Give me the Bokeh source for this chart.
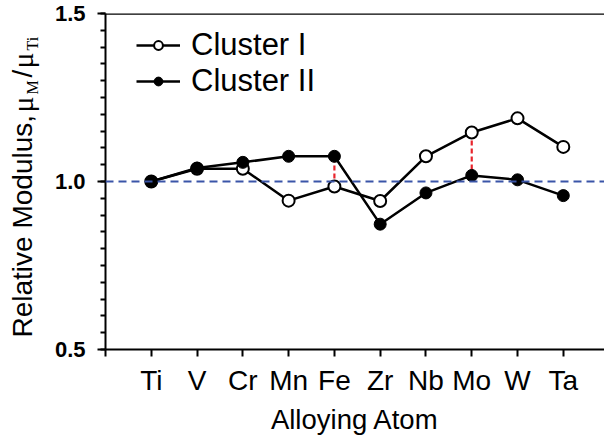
import math
from bokeh.plotting import figure
from bokeh.layouts import row
from bokeh.models import Range1d, FixedTicker, Span, Legend, LegendItem
from bokeh.core.properties import value
from bokeh.embed import file_html
from bokeh.resources import INLINE

# ---- data ----
atoms = ["Ti", "V", "Cr", "Mn", "Fe", "Zr", "Nb", "Mo", "W", "Ta"]
cluster_I = [1.000, 1.038, 1.038, 0.943, 0.985, 0.942, 1.075, 1.146, 1.188, 1.103]
cluster_II = [1.000, 1.040, 1.057, 1.075, 1.075, 0.873, 0.966, 1.018, 1.005, 0.958]
highlight_atoms = ["Fe", "Mo"]
y_tick_values = [0.5, 1.0, 1.5]
y_tick_labels = ["0.5", "1.0", "1.5"]
reference_level = 1.0

xs = list(range(1, len(atoms) + 1))

SANS = "Liberation Sans"
SERIF = "Liberation Serif"

LEFT_W = 48
TOTAL_W = 604
TOTAL_H = 440
FRAME_TOP = 13
FRAME_BOTTOM = 349

# ---- left strip holding the rotated y-axis title (with subscripts) ----
# its frame is aligned with the main frame (page y 13..349)
lab = figure(width=LEFT_W, height=TOTAL_H, output_backend="svg", toolbar_location=None,
             x_range=Range1d(0, LEFT_W),
             y_range=Range1d(TOTAL_H - FRAME_BOTTOM, TOTAL_H - FRAME_TOP),
             x_axis_type=None, y_axis_type=None,
             min_border_left=0, min_border_right=0, min_border_top=FRAME_TOP,
             min_border_bottom=TOTAL_H - FRAME_BOTTOM)
lab.outline_line_color = None
lab.grid.visible = False

# (text, font, size px, baseline x, start y) in page pixels
pieces = [
    ("Relative Modulus,", SANS, 28, 33.3, 337),
    ("\u03bc", SERIF, 30, 33.3, 112),
    ("M", SERIF, 16, 38.5, 94),
    ("/", SANS, 28, 33.3, 77),
    ("\u03bc", SERIF, 30, 33.3, 68),
    ("Ti", SERIF, 16, 38.5, 50),
]
for txt, fnt, fs, px, py in pieces:
    lab.text(x=[px - 0.39 * fs], y=[TOTAL_H - py], text=[txt], angle=math.pi / 2,
             text_font=value(fnt), text_font_size=value(f"{fs}px"), text_color="black",
             text_align="left", text_baseline="alphabetic")

# ---- main plot ----
p = figure(width=TOTAL_W - LEFT_W, height=TOTAL_H, output_backend="svg", toolbar_location=None,
           x_range=Range1d(0, 10.9), y_range=Range1d(0.5, 1.5),
           min_border_left=105 - LEFT_W, min_border_right=0, min_border_top=FRAME_TOP,
           min_border_bottom=TOTAL_H - FRAME_BOTTOM)
p.outline_line_color = None
p.grid.visible = False

for ax in (p.xaxis[0], p.yaxis[0]):
    ax.axis_line_width = 2
    ax.major_tick_line_width = 2
    ax.minor_tick_line_width = 2
    ax.major_tick_in = 0
    ax.minor_tick_in = 0
    ax.axis_line_color = "black"

p.xaxis.ticker = FixedTicker(ticks=[0] + xs)
overrides = {0: ""}
for i, a in zip(xs, atoms):
    overrides[i] = a
p.xaxis.major_label_overrides = overrides
p.xaxis.major_tick_out = 7
p.xaxis.major_label_text_font = SANS
p.xaxis.major_label_text_font_size = "28px"
p.xaxis.major_label_text_color = "black"
p.xaxis.major_label_standoff = 8
p.xaxis.axis_label = "Alloying Atom"
p.xaxis.axis_label_text_font = SANS
p.xaxis.axis_label_text_font_size = "27.5px"
p.xaxis.axis_label_text_font_style = "normal"
p.xaxis.axis_label_text_color = "black"
p.xaxis.axis_label_standoff = 5

minor = [round(0.5 + 0.05 * i, 2) for i in range(21)]
p.yaxis.ticker = FixedTicker(ticks=y_tick_values, minor_ticks=minor)
p.yaxis.major_label_overrides = {v: s for v, s in zip(y_tick_values, y_tick_labels)}
p.yaxis.major_tick_out = 8
p.yaxis.minor_tick_out = 5
p.yaxis.major_label_text_font = SANS
p.yaxis.major_label_text_font_size = "22px"
p.yaxis.major_label_text_font_style = "bold"
p.yaxis.major_label_text_color = "black"
p.yaxis.major_label_standoff = 12

# top frame line
p.add_layout(Span(location=1.5, dimension="width", line_color="black", line_width=2.5))

# reference level
p.add_layout(Span(location=reference_level, dimension="width", line_color="#3a55a8",
                  line_width=2, line_dash="8 5"))

# red difference segments
hx = [xs[atoms.index(a)] for a in highlight_atoms]
h1 = [cluster_I[atoms.index(a)] for a in highlight_atoms]
h2 = [cluster_II[atoms.index(a)] for a in highlight_atoms]
p.segment(x0=hx, y0=h1, x1=hx, y1=h2, line_color="#e8242c", line_width=2.2, line_dash="5 3")

r1l = p.line(xs, cluster_I, line_color="black", line_width=2.5)
r1m = p.scatter(xs, cluster_I, marker="circle", size=12, fill_color="white",
                line_color="black", line_width=2)
r2l = p.line(xs, cluster_II, line_color="black", line_width=2.5)
r2m = p.scatter(xs, cluster_II, marker="circle", size=12, fill_color="black",
                line_color="black", line_width=1)

legend = Legend(items=[LegendItem(label="Cluster I", renderers=[r1l, r1m]),
                       LegendItem(label="Cluster II", renderers=[r2l, r2m])],
                location=(31, 250), orientation="vertical",
                glyph_width=44, glyph_height=22, label_standoff=11,
                label_text_font=SANS, label_text_font_size="31px",
                label_text_color="black", spacing=0, padding=0, margin=0,
                border_line_color=None, background_fill_alpha=0)
p.add_layout(legend)

layout = row(lab, p, spacing=0)
open("out.html", "w").write(file_html(layout, INLINE))
